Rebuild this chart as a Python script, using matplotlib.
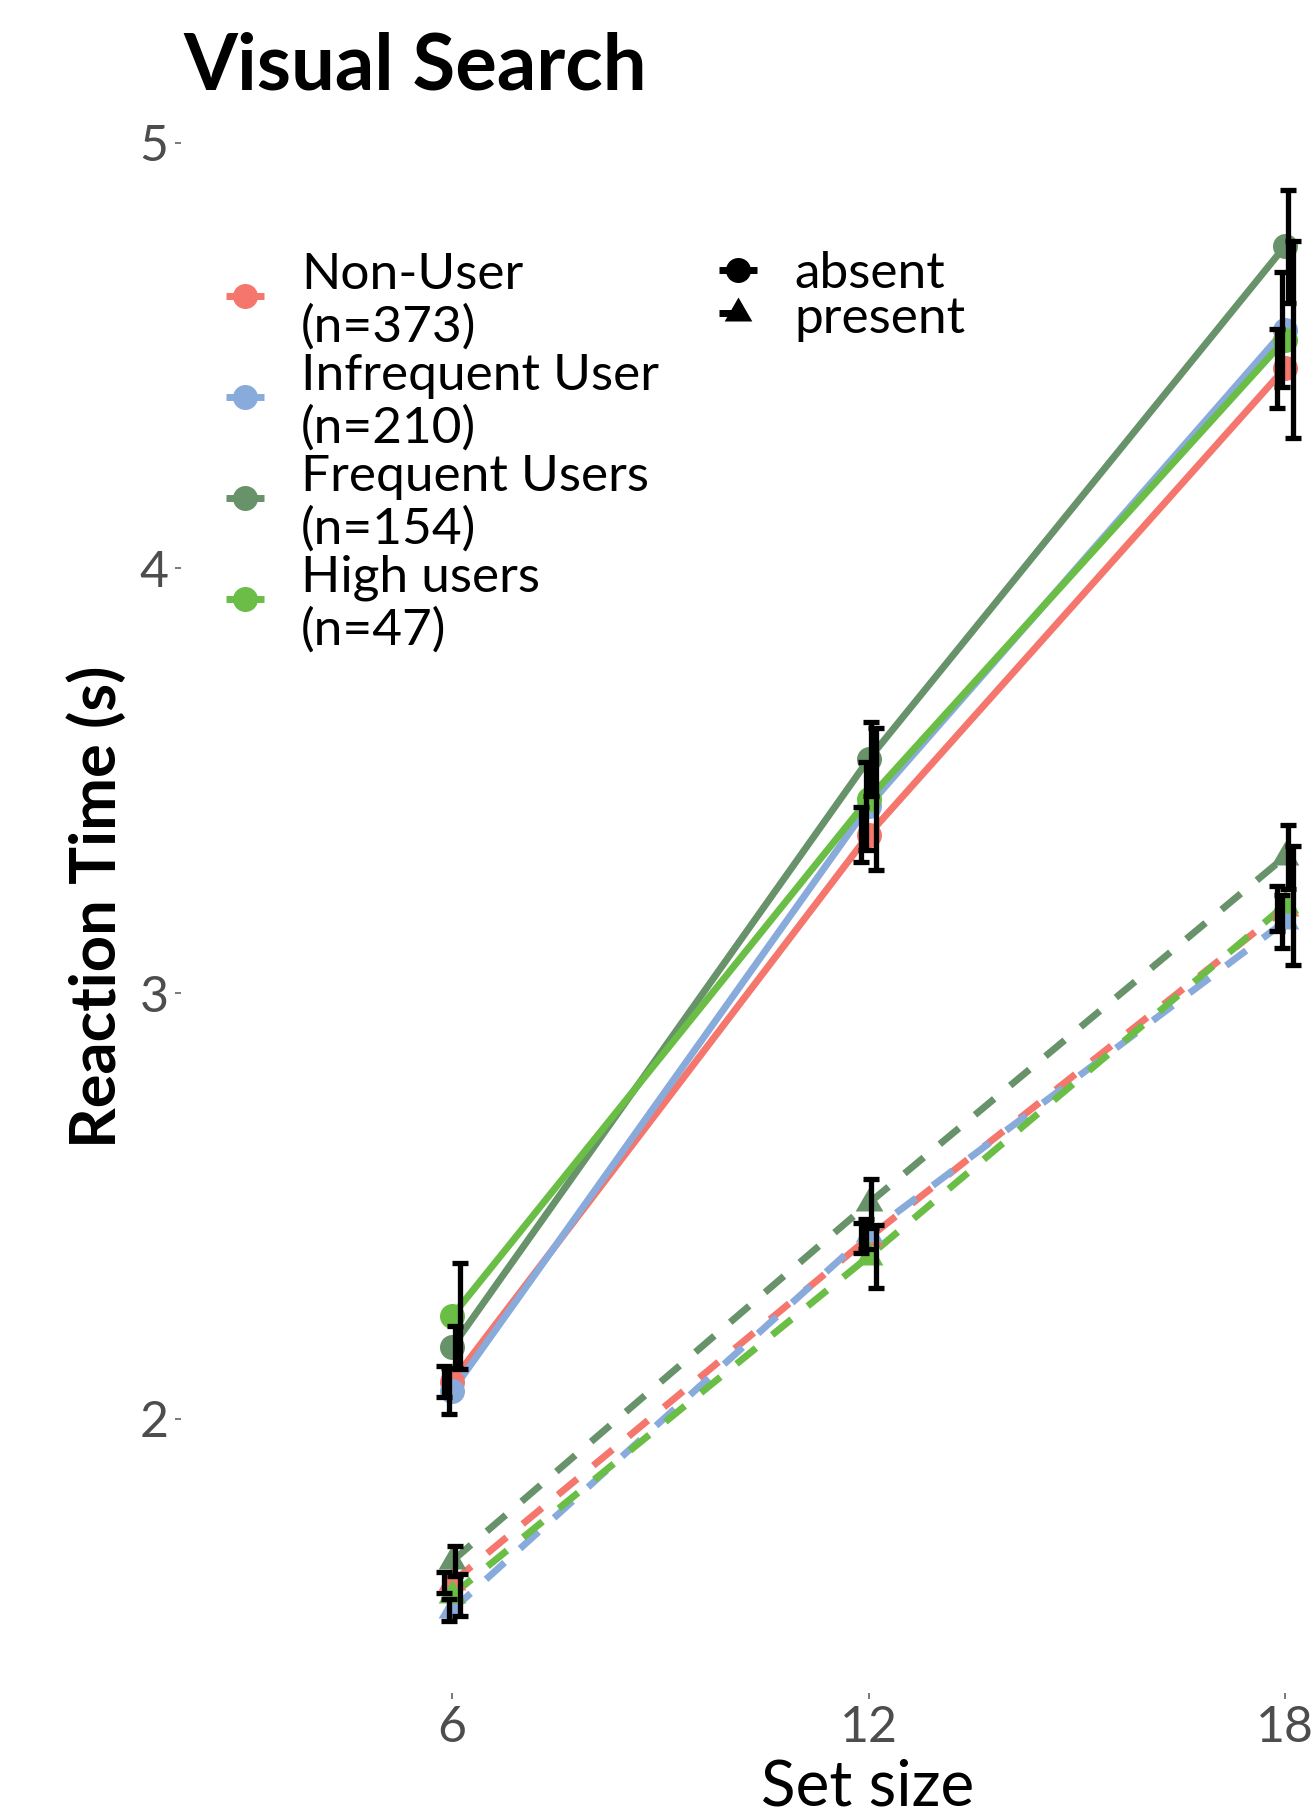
import matplotlib
matplotlib.use("Agg")
import matplotlib.pyplot as plt
from matplotlib.lines import Line2D
import numpy as np

plt.rcParams['font.family'] = ['Lato', 'DejaVu Sans']

# ---- data -------------------------------------------------------------
set_size = [6, 12, 18]
groups = ["Non-User\n(n=373)", "Infrequent User\n(n=210)",
          "Frequent Users\n(n=154)", "High users\n(n=47)"]
group_colors = ["#F4766C", "#89ABDC", "#68926A", "#6ABD45"]
conditions = ["absent", "present"]

absent_mean = [
    [2.087, 3.373, 4.470],
    [2.065, 3.441, 4.560],
    [2.168, 3.550, 4.757],
    [2.241, 3.457, 4.537],
]
absent_se = [
    [0.037, 0.065, 0.093],
    [0.054, 0.104, 0.135],
    [0.050, 0.087, 0.133],
    [0.125, 0.168, 0.231],
]
present_mean = [
    [1.615, 2.425, 3.200],
    [1.550, 2.435, 3.169],
    [1.665, 2.506, 3.321],
    [1.585, 2.381, 3.207],
]
present_se = [
    [0.025, 0.035, 0.053],
    [0.025, 0.035, 0.063],
    [0.036, 0.057, 0.075],
    [0.050, 0.074, 0.140],
]

x_ticks = [6, 12, 18]
y_ticks = [2, 3, 4, 5]

# ---- figure geometry (pixel helpers) ------------------------------------
W, H = 1311, 1818
fig = plt.figure(figsize=(W / 100, H / 100), dpi=100)
fig.patch.set_facecolor("white")


def fx(px):
    return px / W


def fy(py):
    return 1 - py / H


ax = fig.add_axes([fx(181), fy(1693), 1 - fx(181), fy(110) - fy(1693)])
ax.set_xlim(2.095, 18.375)
ax.set_ylim(1.355, 5.077)
for s in ax.spines.values():
    s.set_visible(False)
ax.set_facecolor("white")

LW = 5.0
DASH = (0, (3.6, 3.0))
tri = [(0, 0.577), (-0.5, -0.289), (0.5, -0.289)]
markers = {"absent": ("o", 18), "present": (tri, 23)}
dodge = 0.3
offsets = [dodge * k for k in (-3 / 8, -1 / 8, 1 / 8, 3 / 8)]

x = np.array(set_size, dtype=float)
series = {"absent": (absent_mean, absent_se), "present": (present_mean, present_se)}

# lines
for cond in conditions:
    means, _ = series[cond]
    for g, col in enumerate(group_colors):
        ax.plot(x, means[g], color=col, lw=LW,
                ls="-" if cond == "absent" else DASH,
                solid_capstyle="butt", dash_capstyle="butt", zorder=2)

# points
for cond in conditions:
    means, _ = series[cond]
    mk, ms = markers[cond]
    for g, col in enumerate(group_colors):
        ax.plot(x, means[g], ls="none", marker=mk, ms=ms, color=col,
                markeredgewidth=0, zorder=3)

# error bars (dodged)
for cond in conditions:
    means, ses = series[cond]
    for g in range(len(groups)):
        ax.errorbar(x + offsets[g], means[g], yerr=ses[g], fmt="none",
                    ecolor="black", elinewidth=3.8, capsize=5.5,
                    capthick=3.8, zorder=5)

# axes ticks
ax.set_xticks(x_ticks)
ax.set_xticklabels([str(v) for v in x_ticks])
ax.set_yticks(y_ticks)
ax.set_yticklabels([str(v) for v in y_ticks])
ax.tick_params(axis="both", length=4, width=1.1, color="#555555",
               labelsize=36, labelcolor="#4D4D4D", pad=5)

# titles
fig.text(fx(183), fy(89), "Visual Search", fontsize=56, fontweight="bold",
         ha="left", va="baseline", color="black")
fig.text(fx(868), fy(1806), "Set size", fontsize=46, ha="center",
         va="baseline", color="black")
fig.text(fx(116), fy(907), "Reaction Time (s)", fontsize=45.5,
         fontweight="bold", rotation=90, rotation_mode="anchor",
         ha="center", va="baseline", color="black")

# legend: user group
for g, (lab, col) in enumerate(zip(groups, group_colors)):
    ky = 296 + 101 * g
    fig.add_artist(Line2D([fx(226), fx(264)], [fy(ky), fy(ky)],
                          transform=fig.transFigure, color=col, lw=LW,
                          solid_capstyle="butt"))
    fig.add_artist(Line2D([fx(245)], [fy(ky)], transform=fig.transFigure,
                          marker="o", ms=18, color=col,
                          markeredgewidth=0, ls="none"))
    line1, line2 = lab.split("\n")
    fig.text(fx(301), fy(288.6 + 101 * g), line1, fontsize=37,
             ha="left", va="baseline")
    fig.text(fx(301), fy(341.6 + 101 * g), line2, fontsize=37,
             ha="left", va="baseline")

# legend: target condition
for i, cond in enumerate(conditions):
    ky = 270 + 43 * i
    fig.add_artist(Line2D([fx(719), fx(757)], [fy(ky), fy(ky)],
                          transform=fig.transFigure, color="black", lw=LW,
                          ls="-" if cond == "absent" else DASH,
                          solid_capstyle="butt", dash_capstyle="butt"))
    mk, ms = markers[cond]
    fig.add_artist(Line2D([fx(738)], [fy(ky)], transform=fig.transFigure,
                          marker=mk, ms=ms, color="black",
                          markeredgewidth=0, ls="none"))
    fig.text(fx(794), fy(288 + 45 * i), cond, fontsize=37,
             ha="left", va="baseline")

fig.savefig("out.png", dpi=100, facecolor="white")
